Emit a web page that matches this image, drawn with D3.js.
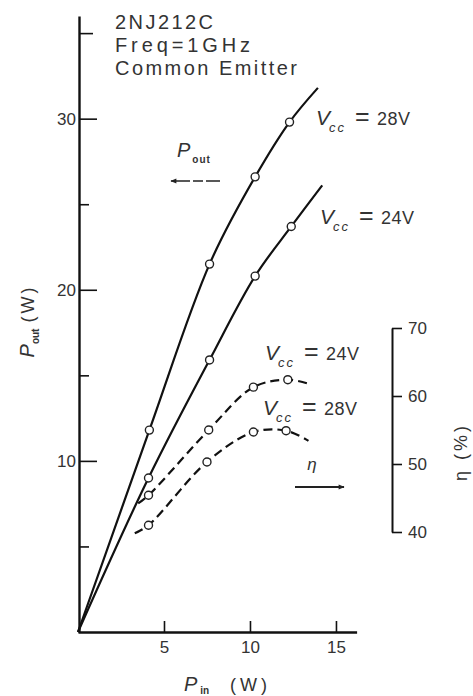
<!DOCTYPE html>
<html>
<head>
<meta charset="utf-8">
<script src="https://cdn.jsdelivr.net/npm/d3@7"></script>
<style>
body { margin: 0; background: #fff; }
text { font-family: "Liberation Sans", Arial, sans-serif; fill: #333; }
</style>
</head>
<body>
<svg id="chart" width="473" height="696"></svg>
<script>
// measured points, P_in (W)
const pin28 = [4.15, 7.65, 10.3, 12.3];
const pout28 = [11.8, 21.5, 26.6, 29.8];
const pin24 = [4.1, 7.65, 10.3, 12.4];
const pout24 = [9.0, 15.9, 20.8, 23.7];
const etaPin24 = [4.1, 7.6, 10.2, 12.2];
const eta24 = [45.4, 55.0, 61.3, 62.4];
const etaPin28 = [4.1, 7.5, 10.2, 12.1];
const eta28 = [41.0, 50.3, 54.7, 54.9];

// where each drawn curve starts and stops [P_in, value]
const pout28Ends = [[0, 0], [13.95, 31.8]];
const pout24Ends = [[0, 0], [14.2, 26.1]];
const eta24Ends = [[3.5, 44.2], [13.4, 61.8]];
const eta28Ends = [[3.3, 39.8], [13.4, 53.4]];

// ticks
const yTicks = [5, 10, 15, 20, 25, 30, 35];
const yLabels = [10, 20, 30];
const xTicks = [5, 10, 15];
const etaTicks = [40, 50, 60, 70];

const svg = d3.select('#chart');

const x = d3.scaleLinear().domain([0, 16.2]).range([78, 356.6]);
const y = d3.scaleLinear().domain([0, 36]).range([632, 16]);
const e = d3.scaleLinear().domain([40, 70]).range([532, 328]);

// arrow heads
const defs = svg.append('defs');
defs.append('marker')
  .attr('id', 'head')
  .attr('viewBox', '0 0 10 10')
  .attr('refX', 9).attr('refY', 5)
  .attr('markerWidth', 9).attr('markerHeight', 6)
  .attr('markerUnits', 'userSpaceOnUse')
  .attr('orient', 'auto')
  .append('path')
  .attr('d', 'M0,1 L10,5 L0,9 Z')
  .attr('fill', '#222');

// left axis
const yAxis = svg.append('g')
  .attr('transform', 'translate(79,0)')
  .call(d3.axisLeft(y).tickValues(yTicks).tickSize(-18).tickSizeOuter(0).tickPadding(3)
    .tickFormat(d => yLabels.includes(d) ? d : ''));
yAxis.selectAll('.tick line').filter(d => !yLabels.includes(d)).attr('x2', d => d === 35 ? 14 : 10);

// bottom axis
const xAxis = svg.append('g')
  .attr('transform', 'translate(0,632)')
  .call(d3.axisBottom(x).tickValues(xTicks).tickSize(-11).tickSizeOuter(0).tickPadding(9));

// right axis (efficiency)
const eAxis = svg.append('g')
  .attr('transform', 'translate(392,0)')
  .call(d3.axisRight(e).tickValues(etaTicks).tickSize(10).tickSizeOuter(0).tickPadding(6));

[yAxis, xAxis, eAxis].forEach(g => {
  g.attr('font-size', 17).attr('font-family', null);
  g.select('.domain').attr('stroke', '#111').attr('stroke-width', 2.4);
  g.selectAll('.tick line').attr('stroke', '#111').attr('stroke-width', 1.6);
});
eAxis.select('.domain').attr('stroke-width', 2);

// curves
const series = [
  { pin: pin28, val: pout28, ends: pout28Ends, scale: y, dash: null, curve: d3.curveMonotoneX },
  { pin: pin24, val: pout24, ends: pout24Ends, scale: y, dash: null, curve: d3.curveMonotoneX },
  { pin: etaPin24, val: eta24, ends: eta24Ends, scale: e, dash: '9,5', curve: d3.curveCatmullRom.alpha(0.5) },
  { pin: etaPin28, val: eta28, ends: eta28Ends, scale: e, dash: '9,5', curve: d3.curveCatmullRom.alpha(0.5) }
];

series.forEach(s => {
  const pts = [s.ends[0]].concat(s.pin.map((p, i) => [p, s.val[i]]), [s.ends[1]]);
  const line = d3.line()
    .x(d => x(d[0]))
    .y(d => s.scale(d[1]))
    .curve(s.curve);
  svg.append('path')
    .attr('d', line(pts))
    .attr('fill', 'none')
    .attr('stroke', '#111')
    .attr('stroke-width', 2.2)
    .attr('stroke-dasharray', s.dash);
  svg.selectAll(null)
    .data(s.pin.map((p, i) => [p, s.val[i]]))
    .enter()
    .append('circle')
    .attr('cx', d => x(d[0]))
    .attr('cy', d => s.scale(d[1]))
    .attr('r', 4)
    .attr('fill', '#fff')
    .attr('stroke', '#222')
    .attr('stroke-width', 1.4);
});

// title block
const title = ['2NJ212C', 'Freq=1GHz', 'Common Emitter'];
const titleW = [98, 135, 182];
title.forEach((t, i) => {
  svg.append('text')
    .attr('x', 115).attr('y', 29 + i * 23)
    .attr('font-size', 20)
    .attr('textLength', titleW[i])
    .attr('lengthAdjust', 'spacing')
    .text(t);
});

// Vcc labels
function vccLabel(x0, y0, volt) {
  const t = svg.append('text').attr('y', y0);
  t.append('tspan').attr('x', x0).attr('font-style', 'italic').attr('font-size', 21).text('V');
  t.append('tspan').attr('x', x0 + 13).attr('dy', 7).attr('font-style', 'italic')
    .attr('font-size', 13).attr('letter-spacing', 2).text('cc');
  t.append('tspan').attr('x', x0 + 39).attr('dy', -7).attr('font-size', 25).text('=');
  t.append('tspan').attr('x', x0 + 61).attr('font-size', 18)
    .attr('letter-spacing', 0.5).text(volt + 'V');
}
vccLabel(316, 125, 28);
vccLabel(320, 224, 24);
vccLabel(265, 360, 24);
vccLabel(263, 415, 28);

// P_out direction
const po = svg.append('text').attr('x', 177).attr('y', 157);
po.append('tspan').attr('font-style', 'italic').attr('font-size', 20).text('P');
po.append('tspan').attr('dx', 2).attr('dy', 6).attr('font-size', 10).attr('font-weight', 'bold')
  .attr('letter-spacing', 1).text('out');
svg.append('line')
  .attr('x1', 220).attr('y1', 181).attr('x2', 171).attr('y2', 181)
  .attr('stroke', '#222').attr('stroke-width', 1.6)
  .attr('stroke-dasharray', '14,3,10,3')
  .attr('marker-end', 'url(#head)');

// eta direction
svg.append('text')
  .attr('x', 312).attr('y', 470)
  .attr('text-anchor', 'middle')
  .attr('font-size', 17).attr('font-style', 'italic')
  .text('η');
svg.append('line')
  .attr('x1', 295).attr('y1', 487).attr('x2', 344).attr('y2', 487)
  .attr('stroke', '#222').attr('stroke-width', 1.8)
  .attr('marker-end', 'url(#head)');

// axis titles
const yt = svg.append('text')
  .attr('transform', 'translate(34,321) rotate(-90)')
  .attr('text-anchor', 'middle');
yt.append('tspan').attr('font-style', 'italic').attr('font-size', 20).text('P');
yt.append('tspan').attr('dy', 5).attr('font-size', 10).attr('font-weight', 'bold').text('out');
yt.append('tspan').attr('dy', -5).attr('dx', 6).attr('font-size', 18).attr('letter-spacing', 3).text('(W)');

const xt = svg.append('text').attr('x', 184).attr('y', 691);
xt.append('tspan').attr('font-style', 'italic').attr('font-size', 20).text('P');
xt.append('tspan').attr('dx', 3).attr('dy', 3).attr('font-size', 10).attr('font-weight', 'bold').text('in');
xt.append('tspan').attr('x', 230).attr('dy', -3).attr('font-size', 18).attr('letter-spacing', 4).text('(W)');

svg.append('text')
  .attr('transform', 'translate(467,452) rotate(-90)')
  .attr('text-anchor', 'middle')
  .attr('font-size', 18)
  .attr('letter-spacing', 3)
  .text('η (%)');
</script>
</body>
</html>
